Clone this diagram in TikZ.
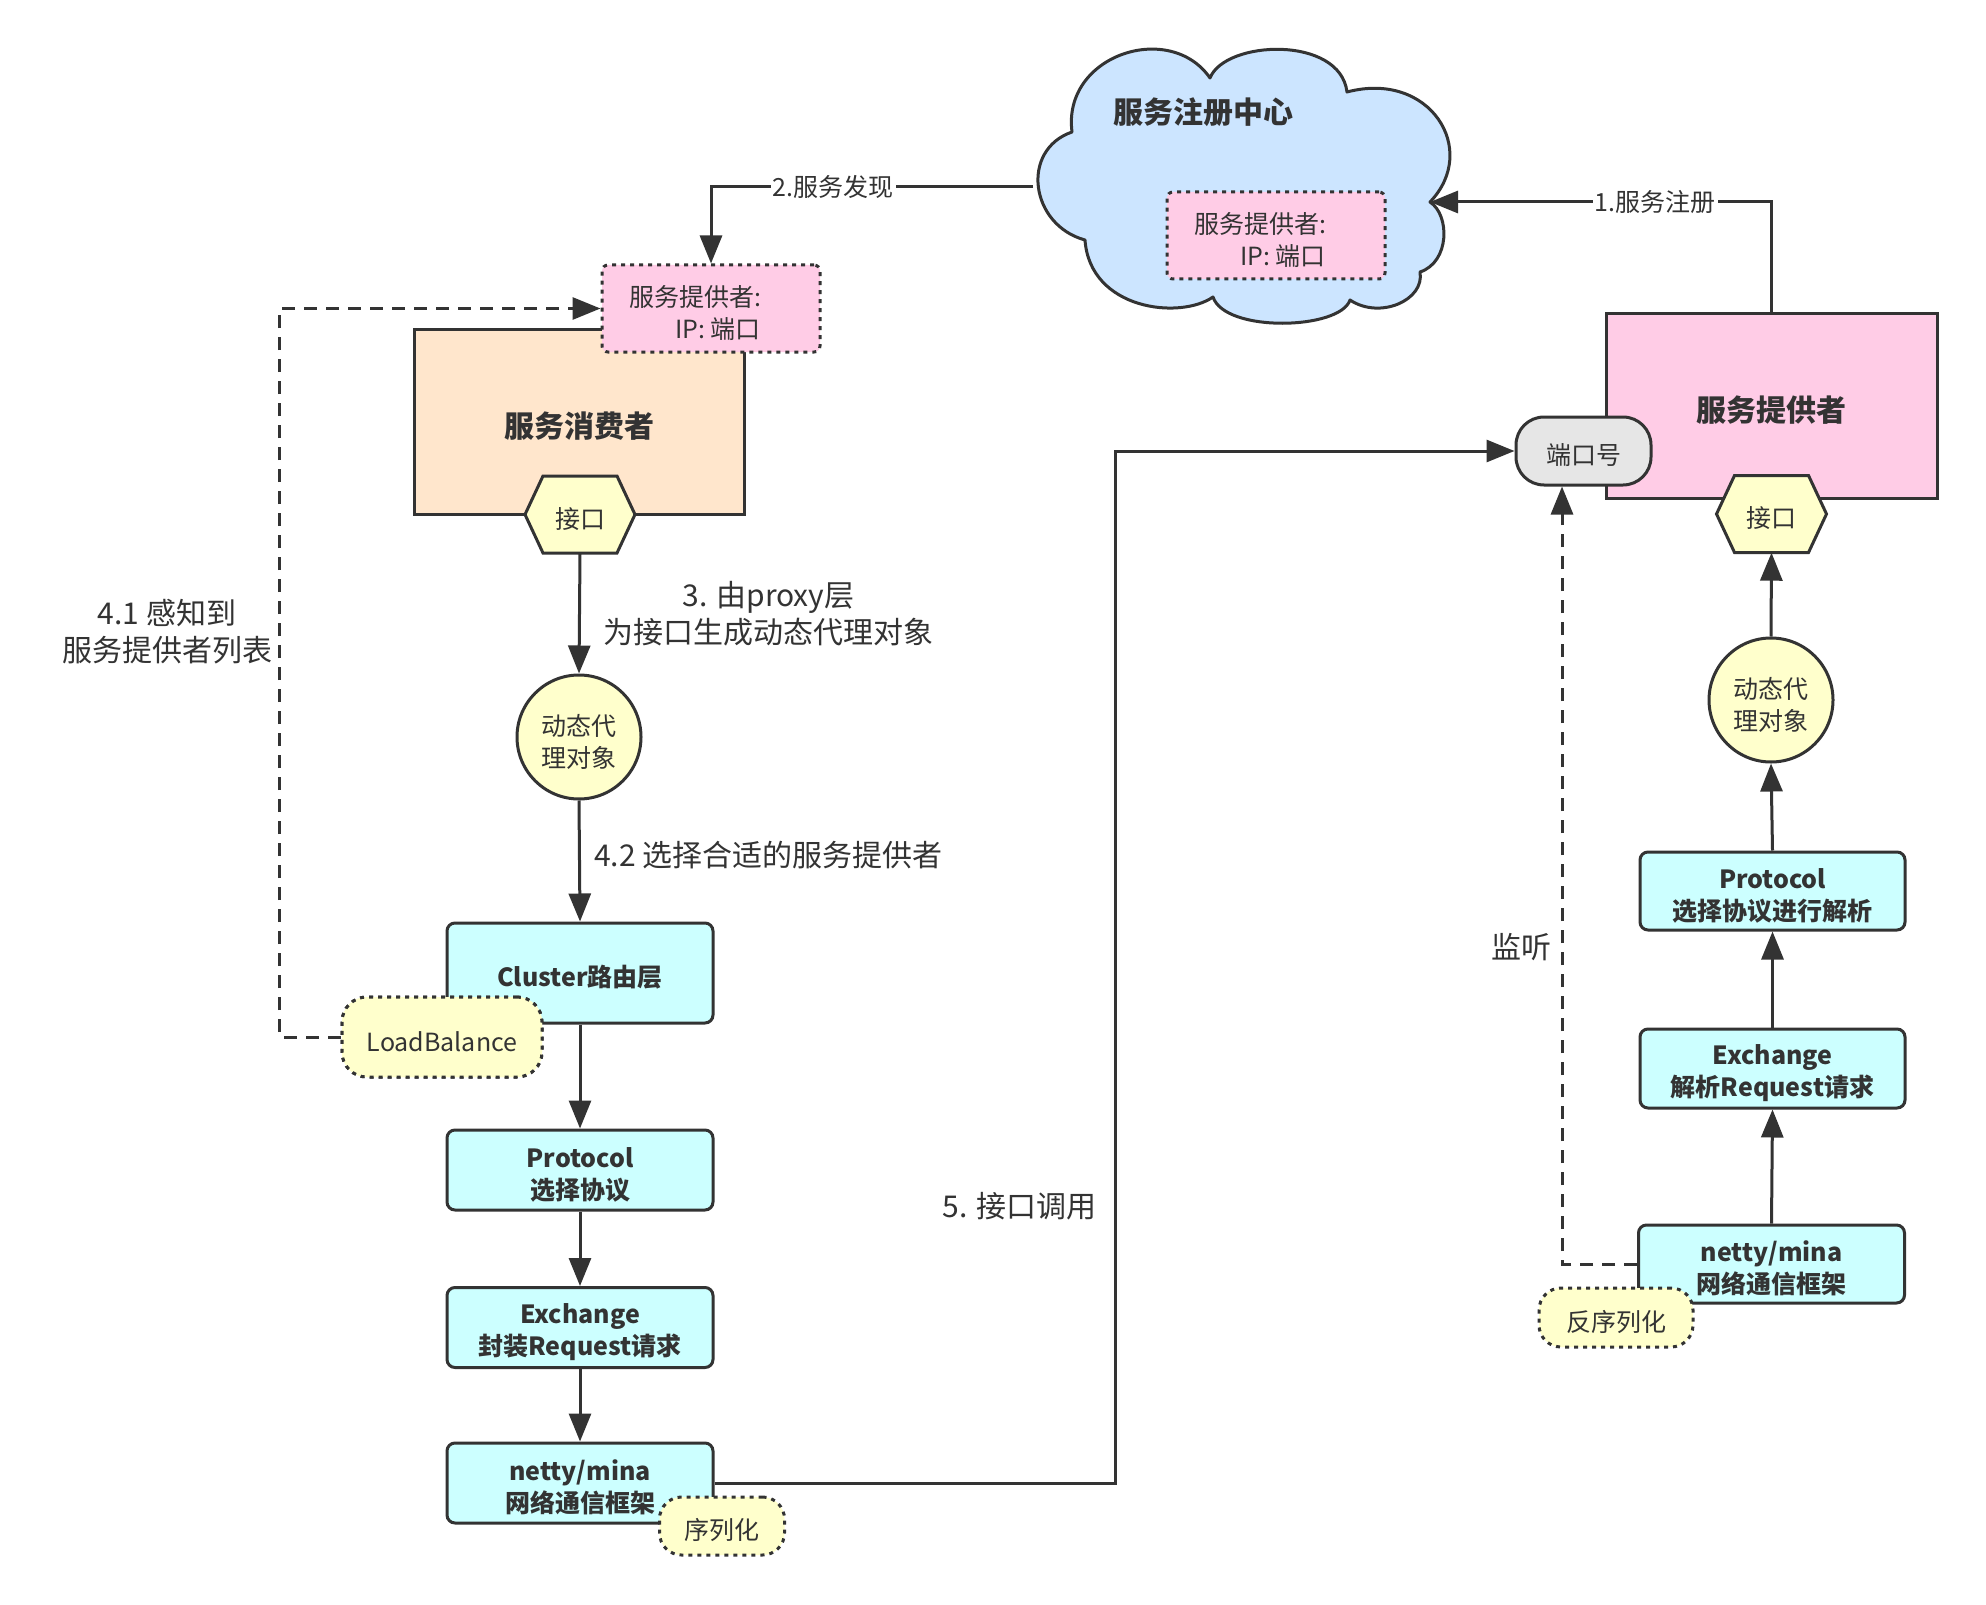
\documentclass[tikz,border=0pt]{standalone}
\usepackage{fontspec}
\setmainfont{Noto Sans CJK SC}
\usetikzlibrary{arrows.meta}

\definecolor{dk}{HTML}{333333}
\definecolor{peachf}{HTML}{FFE6CC}
\definecolor{pinkf}{HTML}{FFCCE6}
\definecolor{cyanf}{HTML}{CCFFFF}
\definecolor{yelf}{HTML}{FFFFCC}
\definecolor{cloudf}{HTML}{CCE5FF}
\definecolor{greyf}{HTML}{E6E6E6}

% invisible struts that set box text a little below the geometric centre
\newcommand{\lowA}{\rule{0pt}{30pt}}
\newcommand{\lowB}{\rule{0pt}{35pt}}

\tikzset{
  every node/.style={text=dk, inner sep=0pt, font=\fontsize{25}{32}\selectfont},
  ln/.style={draw=dk, line width=3pt},
  tip/.style={-{Triangle[length=28pt,width=22pt]}},
  arr/.style={ln, tip},
  dsh/.style={dash pattern=on 13pt off 9pt},
  dotb/.style={dash pattern=on 4pt off 5pt},
  layerbox/.style={draw=dk, line width=3pt, fill=cyanf, rounded corners=8pt,
    minimum width=266pt, minimum height=80pt, align=center,
    font=\bfseries\fontsize{25}{32}\selectfont},
  bigbox/.style={draw=dk, line width=3pt, minimum width=331pt, minimum height=185pt,
    font=\bfseries\fontsize{30}{36}\selectfont},
  infobox/.style={draw=dk, line width=3pt, dotb, fill=pinkf, rounded corners=6pt,
    minimum width=218pt, minimum height=87pt, align=right},
  tagbox/.style={draw=dk, line width=3pt, dotb, fill=yelf, rounded corners=25pt},
  hexst/.style={draw=dk, line width=3pt, fill=yelf, line join=miter},
  proxy/.style={circle, draw=dk, line width=3pt, fill=yelf, minimum size=124pt, align=center},
  lbl/.style={align=center, font=\fontsize{30}{37}\selectfont},
  elbl/.style={fill=white, inner sep=2pt}
}

% flat-topped hexagon centred at (#1,#2)
\newcommand{\hexagonshape}[2]{%
  \draw[hexst] ({#1-55},#2) -- ({#1-37},{#2-38.5}) -- ({#1+37},{#2-38.5})
    -- ({#1+55},#2) -- ({#1+37},{#2+38.5}) -- ({#1-37},{#2+38.5}) -- cycle;}

\begin{document}
\begin{tikzpicture}[x=1pt,y=-1pt]
\useasboundingbox (0,0) rectangle (1986,1605);
\fill[white] (0,0) rectangle (1986,1605);

% ---------- registry cloud ----------
\draw[ln, fill=cloudf, line join=round]
  (1072,132) .. controls (1062,55) and (1170,20) .. (1210,78)
  .. controls (1225,40) and (1340,35) .. (1347,92)
  .. controls (1430,70) and (1480,150) .. (1430,202)
  .. controls (1450,215) and (1450,262) .. (1420,272)
  .. controls (1425,300) and (1380,320) .. (1350,300)
  .. controls (1340,330) and (1225,333) .. (1213,297)
  .. controls (1180,320) and (1090,310) .. (1085,240)
  .. controls (1030,225) and (1020,150) .. (1072,132) -- cycle;
\coordinate (cloudL) at (1033,187);
\coordinate (cloudR) at (1430,202);
\node[font=\bfseries\fontsize{30}{36}\selectfont] (reg) at (1203,112) {服务注册中心};
\node[infobox] (regitem) at (1276,235.5) {\lowA 服务提供者:\hspace*{32pt}\\IP: 端口\hspace*{32pt}};

% ---------- consumer side ----------
\node[bigbox, fill=peachf, minimum width=330pt] (cons) at (579,421.5) {\lowB 服务消费者};
\node[infobox] (conitem) at (711,308.5) {\lowA 服务提供者:\hspace*{32pt}\\IP: 端口\hspace*{32pt}};
\hexagonshape{580}{514.5}
\node[minimum width=110pt, minimum height=77pt] (hex1) at (580,514.5) {\lowA 接口};
\node[proxy] (dyn1) at (579,737) {\lowA 动态代\\理对象};
\node[layerbox, minimum height=100pt] (cluster) at (580,973) {\lowA Cluster路由层};
\node[tagbox, minimum width=200pt, minimum height=80pt] (lb) at (442,1037) {\lowA LoadBalance};
\node[layerbox] (proto1) at (580,1170) {\lowA Protocol\\选择协议};
\node[layerbox] (exch1) at (580,1327.5) {\lowA Exchange\\封装Request请求};
\node[layerbox] (netty1) at (580,1483) {\lowA netty/mina\\网络通信框架};
\node[tagbox, rounded corners=22pt, minimum width=125pt, minimum height=58pt] (ser) at (722,1526) {\lowA 序列化};

% ---------- provider side ----------
\node[bigbox, fill=pinkf] (prov) at (1771.5,405.5) {\lowB 服务提供者};
\node[draw=dk, line width=3pt, fill=greyf, rounded corners=28pt,
      minimum width=135pt, minimum height=68pt] (port) at (1583.5,451) {\lowA 端口号};
\hexagonshape{1771.5}{514}
\node[minimum width=110pt, minimum height=77pt] (hex2) at (1771.5,514) {\lowA 接口};
\node[proxy] (dyn2) at (1771,700) {\lowA 动态代\\理对象};
\node[layerbox, minimum width=265pt, minimum height=78pt] (proto2) at (1772.5,891) {\lowA Protocol\\选择协议进行解析};
\node[layerbox, minimum width=265pt, minimum height=79pt] (exch2) at (1772.5,1068.5) {\lowA Exchange\\解析Request请求};
\node[layerbox, minimum height=78pt] (netty2) at (1771.5,1264) {\lowA netty/mina\\网络通信框架};
\node[tagbox, rounded corners=22pt, minimum width=154pt, minimum height=59pt] (deser) at (1616,1317.5) {\lowA 反序列化};

% ---------- connectors ----------
\draw[arr] (prov.north) |- (cloudR) node[pos=0.67, elbl] {1.服务注册};
\draw[arr] (cloudL) -| (conitem.north) node[pos=0.31, elbl] {2.服务发现};
\draw[arr] (hex1.south) -- (dyn1.north)
  node[midway, lbl, xshift=189pt] (l3) {3. 由proxy层\\为接口生成动态代理对象};
\draw[arr] (dyn1.south) -- (cluster.north)
  node[midway, lbl, xshift=189pt, yshift=6pt] (l42) {4.2 选择合适的服务提供者};
\draw[arr] (cluster.south) -- (proto1.north);
\draw[arr] (proto1.south) -- (exch1.north);
\draw[arr] (exch1.south) -- (netty1.north);
\draw[ln, dsh, tip] (lb.west) -- ++(-61,0) |- (conitem.west);
\node[lbl] (l41) at (167,631.5) {4.1 感知到\\服务提供者列表};

\draw[arr] (netty1.east) -- ++(401,0) |- (port.west);
\node[lbl, anchor=east] (l5) at (1097,1206) {5. 接口调用};

\draw[arr] (netty2.north) -- (exch2.south);
\draw[arr] (exch2.north) -- (proto2.south);
\draw[arr] (proto2.north) -- (dyn2.south);
\draw[arr] (dyn2.north) -- (hex2.south);
\draw[ln, dsh, tip] (netty2.west) -| ([xshift=-21.5pt]port.south);
\node[lbl] (listen) at (1521,947) {监听};

% keep the LoadBalance tag above the dashed connector
\node[tagbox, minimum width=200pt, minimum height=80pt] at (lb) {\lowA LoadBalance};
\end{tikzpicture}
\end{document}
